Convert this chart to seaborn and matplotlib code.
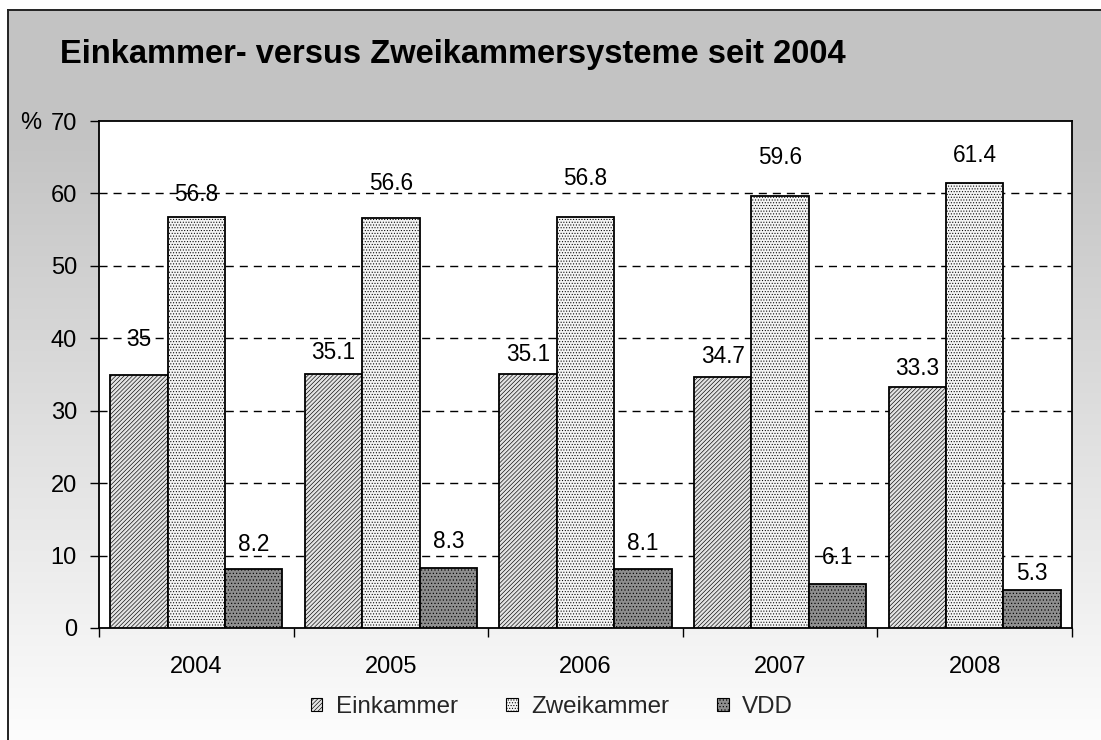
import numpy as np
import pandas as pd
import matplotlib
matplotlib.use("Agg")
import matplotlib.pyplot as plt
import matplotlib.patches as mpatches
from matplotlib.ticker import FixedLocator
import seaborn as sns

# ---------------- data ----------------
years = ["2004", "2005", "2006", "2007", "2008"]
series_names = ["Einkammer", "Zweikammer", "VDD"]
einkammer = [35, 35.1, 35.1, 34.7, 33.3]
zweikammer = [56.8, 56.6, 56.8, 59.6, 61.4]
vdd = [8.2, 8.3, 8.1, 6.1, 5.3]
title_text = "Einkammer- versus Zweikammersysteme seit 2004"
yticks = [0, 10, 20, 30, 40, 50, 60, 70]

# ---------------- style ----------------
faces = {"Einkammer": "#e4e4e4", "Zweikammer": "#f4f4f4", "VDD": "#8e8e8e"}
hatches = {"Einkammer": "////////", "Zweikammer": "......", "VDD": "....."}
# label offsets above bar tops (pixels), as placed in the original
label_offsets = {
    "Einkammer": [37, 22.6, 21, 21.7, 19.4],
    "Zweikammer": [24, 36, 40, 40, 29],
    "VDD": [26, 28, 27, 27.6, 18],
}

sns.set_theme(style="white")
plt.rcParams["font.family"] = ["Liberation Sans", "DejaVu Sans"]
plt.rcParams["hatch.linewidth"] = 0.45

df = pd.DataFrame({
    "year": years * 3,
    "series": [s for s in series_names for _ in years],
    "value": einkammer + zweikammer + vdd,
})

W, H = 1101, 740
DPI = 100
fig = plt.figure(figsize=(W / DPI, H / DPI), dpi=DPI)
fig.patch.set_facecolor("white")
PX = 72.0 / DPI  # points per pixel

# ---- gradient background with frame (top + left lines) ----
bg = fig.add_axes([8 / W, 0, 1 - 8 / W, 1 - 10 / H], zorder=-10)
rows = np.arange(730)
gvals = np.interp(rows, [0, 130, 730], [195, 196, 253]) / 255.0
img = np.repeat(gvals[:, None], 2, axis=1)
bg.imshow(np.dstack([img, img, img]), aspect="auto", extent=[0, 1, 0, 1],
          interpolation="bilinear")
bg.set_xlim(0, 1)
bg.set_ylim(0, 1)
bg.set_xticks([])
bg.set_yticks([])
for side in ["right", "bottom"]:
    bg.spines[side].set_visible(False)
for side in ["top", "left"]:
    bg.spines[side].set_color("#222222")
    bg.spines[side].set_linewidth(1.4)

# ---- main axes ----
left, right, top, bottom = 99, 1072, 121, 628
ax = fig.add_axes([left / W, 1 - bottom / H, (right - left) / W, (bottom - top) / H])
ax.set_facecolor("white")

sns.barplot(data=df, x="year", y="value", hue="series", order=years,
            hue_order=series_names, width=0.885, ax=ax, legend=False,
            edgecolor="black", linewidth=1.3, errorbar=None)

for name, cont in zip(series_names, ax.containers):
    for p in cont:
        p.set_facecolor(faces[name])
        p.set_hatch(hatches[name])
        p.set_edgecolor("black")
        p.set_zorder(3)

# data labels
for name, cont in zip(series_names, ax.containers):
    for p, off in zip(cont, label_offsets[name]):
        v = p.get_height()
        ax.annotate(f"{v:g}", xy=(p.get_x() + p.get_width() / 2, v),
                    xytext=(0, (off - 8) * PX), textcoords="offset points",
                    ha="center", va="baseline", fontsize=16.3, color="black",
                    zorder=2)

ax.set_xlim(-0.5, len(years) - 0.5)
ax.set_ylim(0, 70)
ax.set_yticks(yticks)
ax.set_yticklabels([str(t) for t in yticks])
ax.set_xlabel("")
ax.set_ylabel("")

ax.yaxis.grid(True, color="black", linestyle=(0, (5.8, 4.3)), linewidth=1.0)
ax.xaxis.grid(False)
ax.set_axisbelow(True)
ax.tick_params(axis="y", which="major", direction="out", length=9 * PX,
               width=1.0, color="black", left=True, pad=13 * PX,
               labelsize=17, labelcolor="black")
ax.tick_params(axis="x", which="major", length=0, pad=20.5, labelsize=17,
               labelcolor="black")
ax.xaxis.set_minor_locator(FixedLocator(np.arange(-0.5, len(years), 1.0)))
ax.tick_params(axis="x", which="minor", direction="out", length=9 * PX,
               width=1.0, color="black", bottom=True)
for s in ax.spines.values():
    s.set_color("black")
    s.set_linewidth(1.3)

# hide gridlines where spines are
for gl, t in zip(ax.yaxis.get_gridlines(), yticks):
    if t in (0, 70):
        gl.set_visible(False)

# title and % label
fig.text(60 / W, 1 - 63 / H, title_text, fontsize=23.5, fontweight="bold",
         ha="left", va="baseline", color="black")
fig.text(20 / W, 1 - 129 / H, "%", fontsize=17, ha="left", va="baseline",
         color="black")

# legend
handles = [mpatches.Patch(facecolor=faces[n], hatch=hatches[n], edgecolor="black",
                          linewidth=0.8, label=n) for n in series_names]
fig.legend(handles=handles, loc="center", bbox_to_anchor=(552 / W, 1 - 707 / H),
           ncol=3, frameon=False, fontsize=17.4, handlelength=0.48,
           handleheight=0.48, handletextpad=0.55, columnspacing=2.0)

fig.savefig("out.png", dpi=DPI)
